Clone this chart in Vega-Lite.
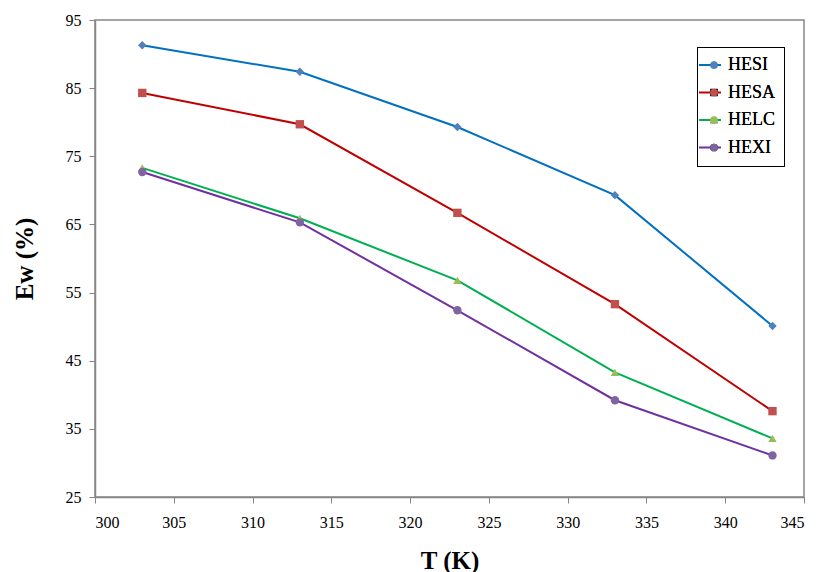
{
  "$schema": "https://vega.github.io/schema/vega-lite/v6.json",
  "width": 709,
  "height": 477,
  "autosize": {"type": "none"},
  "padding": {"left": 95, "top": 20, "right": 15, "bottom": 75},
  "background": "white",
  "config": {
    "view": {"stroke": "#868686", "strokeWidth": 1.5},
    "font": "Liberation Serif",
    "axis": {
      "labelFont": "Liberation Serif",
      "titleFont": "Liberation Serif",
      "labelColor": "black",
      "titleColor": "black",
      "domainColor": "#868686",
      "tickColor": "#868686",
      "domainWidth": 1.5,
      "grid": false,
      "labelFontSize": 16,
      "titleFontSize": 25,
      "titleFontWeight": "bold",
      "tickSize": 6
    },
    "legend": {"labelFont": "Liberation Serif"}
  },
  "data": {
    "values": [
      {"T": 303, "Ew": 91.3, "series": "HESI"},
      {"T": 313, "Ew": 87.4, "series": "HESI"},
      {"T": 323, "Ew": 79.3, "series": "HESI"},
      {"T": 333, "Ew": 69.3, "series": "HESI"},
      {"T": 343, "Ew": 50.1, "series": "HESI"},
      {"T": 303, "Ew": 84.3, "series": "HESA"},
      {"T": 313, "Ew": 79.7, "series": "HESA"},
      {"T": 323, "Ew": 66.7, "series": "HESA"},
      {"T": 333, "Ew": 53.3, "series": "HESA"},
      {"T": 343, "Ew": 37.6, "series": "HESA"},
      {"T": 303, "Ew": 73.3, "series": "HELC"},
      {"T": 313, "Ew": 65.9, "series": "HELC"},
      {"T": 323, "Ew": 56.8, "series": "HELC"},
      {"T": 333, "Ew": 43.3, "series": "HELC"},
      {"T": 343, "Ew": 33.6, "series": "HELC"},
      {"T": 303, "Ew": 72.7, "series": "HEXI"},
      {"T": 313, "Ew": 65.3, "series": "HEXI"},
      {"T": 323, "Ew": 52.4, "series": "HEXI"},
      {"T": 333, "Ew": 39.2, "series": "HEXI"},
      {"T": 343, "Ew": 31.1, "series": "HEXI"}
    ]
  },
  "encoding": {
    "x": {
      "field": "T", "type": "quantitative",
      "scale": {"domain": [300, 345], "nice": false, "zero": false},
      "axis": {"values": [300, 305, 310, 315, 320, 325, 330, 335, 340, 345], "title": "T (K)", "labelPadding": 11, "titlePadding": 18}
    },
    "y": {
      "field": "Ew", "type": "quantitative",
      "scale": {"domain": [25, 95], "nice": false, "zero": false},
      "axis": {"values": [25, 35, 45, 55, 65, 75, 85, 95], "title": "Ew (%)", "labelPadding": 8, "titlePadding": 28}
    }
  },
  "layer": [
    {
      "mark": {"type": "line", "strokeWidth": 2},
      "encoding": {
        "stroke": {
          "field": "series", "type": "nominal",
          "scale": {"domain": ["HESI", "HESA", "HELC", "HEXI"], "range": ["#0070C0", "#C00000", "#00B050", "#7030A0"]},
          "legend": {
            "orient": "none", "legendX": 603, "legendY": 35,
            "title": null, "symbolType": "stroke", "symbolSize": 484, "symbolStrokeWidth": 2,
            "labelExpr": "''", "labelFontSize": 1, "labelOffset": 0,
            "clipHeight": 20, "rowPadding": 7.5, "padding": 0
          }
        }
      }
    },
    {
      "mark": {"type": "point", "filled": true, "opacity": 1, "size": 70},
      "encoding": {
        "fill": {
          "field": "series", "type": "nominal", "sort": ["HESI", "HESA", "HELC", "HEXI"],
          "scale": {"range": ["#4F81BD", "#C0504D", "#9BBB59", "#8064A2"]},
          "legend": {
            "orient": "none", "legendX": 602, "legendY": 27,
            "title": null, "symbolSize": 60, "symbolStrokeWidth": 0,
            "labelFontSize": 18, "labelColor": "black",
            "clipHeight": 20, "rowPadding": 7.5, "padding": 8, "labelOffset": 5,
            "strokeColor": "black"
          }
        },
        "shape": {
          "field": "series", "type": "nominal", "sort": ["HESI", "HESA", "HELC", "HEXI"],
          "scale": {"range": ["diamond", "square", "triangle-up", "circle"]},
          "legend": {
            "orient": "none", "legendX": 602, "legendY": 27,
            "title": null, "symbolSize": 60, "symbolStrokeWidth": 0,
            "labelFontSize": 18, "labelColor": "black",
            "clipHeight": 20, "rowPadding": 7.5, "padding": 8, "labelOffset": 5,
            "strokeColor": "black"
          }
        }
      }
    }
  ]
}
